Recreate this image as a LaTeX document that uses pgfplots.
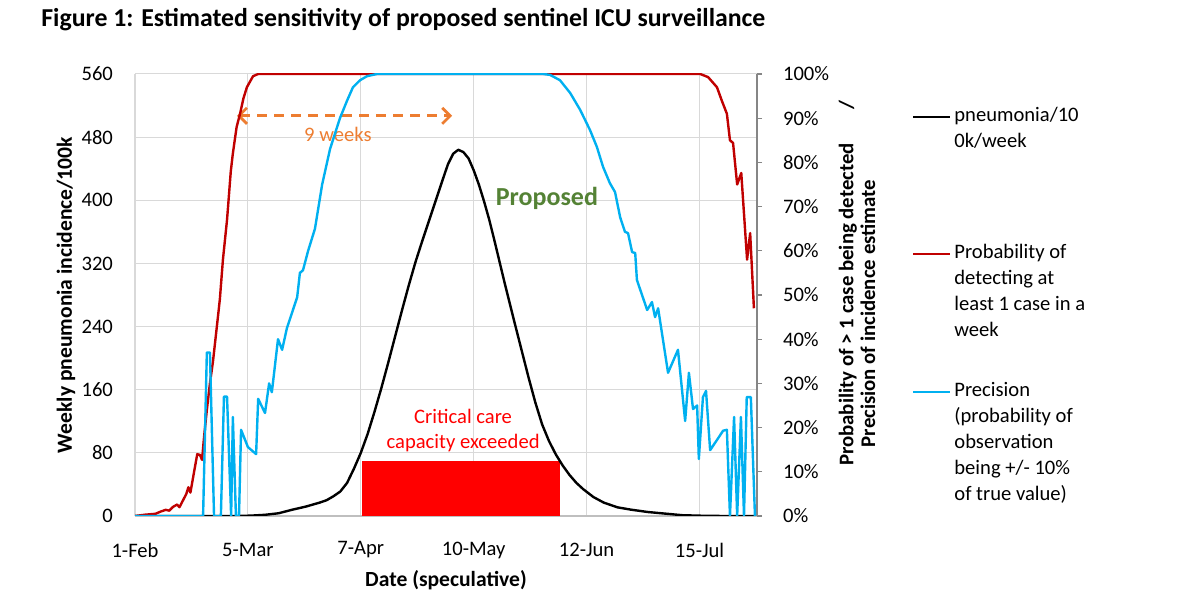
\documentclass[border=0pt]{standalone}
\usepackage{fontspec}
\setmainfont{Carlito}
\usepackage{pgfplots}
\pgfplotsset{compat=1.18}
\usetikzlibrary{arrows.meta}
\definecolor{redline}{HTML}{C00000}
\definecolor{blueline}{HTML}{00B0F0}
\definecolor{gridgray}{HTML}{D9D9D9}
\definecolor{axisgray}{HTML}{868686}
\definecolor{botgray}{HTML}{BFBFBF}
\definecolor{propgreen}{HTML}{548235}
\definecolor{arrorange}{HTML}{ED7D31}
\newcommand{\fs}{\fontsize{10.3}{12.5}\selectfont}
\newcommand{\lgtext}[1]{\parbox[t]{90pt}{\fontsize{10.3}{13}\selectfont\raggedright #1}}
\begin{document}
\begin{tikzpicture}
\path[use as bounding box] (0,0) rectangle (600pt,302.5pt);
\node[anchor=base west,font=\bfseries\fontsize{12.9}{15}\selectfont,inner sep=0pt] at (20.5pt,289pt) {Figure 1: Estimated sensitivity of proposed sentinel ICU surveillance};
\begin{axis}[
  scale only axis, width=311pt, height=221pt, at={(67.5pt,44.5pt)}, anchor=south west,
  xmin=0, xmax=181.8, ymin=0, ymax=560,
  axis x line*=bottom, axis y line*=left,
  x axis line style={draw=botgray, line width=0.6pt, -},
  y axis line style={draw=none},
  major tick length=0pt,
  xtick={0,33,66,99,132,165},
  xticklabels={1-Feb,5-Mar,7-Apr,10-May,12-Jun,15-Jul},
  ytick={0,80,...,560},
  grid=major, major grid style={draw=gridgray, line width=0.5pt},
  /pgf/number format/assume math mode=true,
  tick label style={font=\fs},
  xticklabel style={anchor=center, yshift=-17pt},
  yticklabel style={anchor=east, xshift=-7.5pt},
  xlabel={Date (speculative)},
  xlabel style={font=\bfseries\fontsize{10.8}{13}\selectfont, at={(axis description cs:0.5,-0.145)}, anchor=center},
  ylabel={Weekly pneumonia incidence/100k},
  ylabel style={font=\bfseries\fontsize{10.8}{13}\selectfont, at={(axis description cs:-0.111,0.5)}, anchor=center},
  line join=round,
]
\addplot[fill=red, draw=none] coordinates {(66.4,70) (124.2,70)} \closedcycle;
\addplot[black, line width=1.2pt] coordinates {
(0,0) (30,0) (34,0.5) (38,1.5) (42,3.5) (46,8) (50,12) (54,17) (56,20) (58,25) (60,31) (62,42) (64,60) (66,80) (68,104) (70,132) (72,162) (74,194) (76,227) (78,260) (80,292) (82,322) (84,349) (86,375) (88,401) (90,427) (91.5,446) (93,459) (94.5,464) (96,461) (97.5,453) (99,438) (100.5,420) (102,399) (103.5,376) (105,350) (106.5,323) (108,296) (109.5,270) (111,244) (113,210) (115,176) (117,144) (119,116) (121,95) (123,78) (125,64) (127,52) (129,42) (131,34) (134,24) (137,17) (141,11) (145,8) (150,5) (155,3) (160,1) (166,0.3) (172,0) (181.2,0)
};
\node[font=\fs, text=red, align=center] at (axis cs:95.9,108) {Critical care\\capacity exceeded};
\node[font=\bfseries\fontsize{13}{15}\selectfont, text=propgreen] at (axis cs:120.4,402) {Proposed};
\node[font=\fs, text=arrorange] at (axis cs:59.3,484) {9 weeks};
\draw[arrorange, line width=1.4pt, dash pattern=on 5pt off 3.5pt, {Straight Barb[length=4pt,width=8pt]}-{Straight Barb[length=4pt,width=8pt]}] (axis cs:29.8,507) -- (axis cs:92.7,507);
\end{axis}
\begin{axis}[
  scale only axis, width=311pt, height=221pt, at={(67.5pt,44.5pt)}, anchor=south west,
  xmin=0, xmax=181.8, ymin=0, ymax=100,
  axis y line*=right, axis x line=none,
  y axis line style={draw=axisgray, line width=0.6pt, -},
  ytick={0,10,...,100},
  ytick style={draw=axisgray, line width=0.6pt},
  tick align=outside, major tick length=2.5pt,
  yticklabel={\pgfmathprintnumber{\tick}\%},
  /pgf/number format/assume math mode=true,
  tick label style={font=\fs},
  yticklabel style={anchor=west, xshift=7pt},
  ylabel={\hspace*{12pt}Probability of > 1 case being detected\hspace*{17pt}/\\Precision of incidence estimate\hspace*{18.5pt}},
  ylabel style={font=\bfseries\fontsize{10.4}{10.8}\selectfont, align=center, at={(axis description cs:1.1608,0.5)}, anchor=center, rotate=0},
  line join=round,
]
\addplot[redline, line width=1.2pt] coordinates {
(0,0) (3,0.3) (6,0.5) (7.5,1) (9,1.4) (10,1.2) (11,2) (12.3,2.6) (13,2) (14,3.5) (15,5) (15.6,6.5) (16.2,5.3) (17.5,11) (18.2,14) (19,13.8) (19.6,12.7) (20.2,18) (21,24) (21.9,30) (22.8,35) (23.8,42) (24.8,49) (25.7,58) (26.9,67) (28,78) (28.6,82) (29.7,88) (30.7,91) (31.7,94.5) (32.7,97) (34.5,99.5) (36,100) (165.2,100) (167.5,99.3) (170.1,97) (171.5,94) (173,91) (173.9,85) (174.8,84.4) (176,75) (177.2,77.6) (178.9,58) (179.8,64) (180.9,47)
};
\addplot[blueline, line width=1.2pt] coordinates {
(0,0) (19.9,0) (21.0,37) (21.9,37) (23.1,0) (25.1,0) (26.0,27) (26.9,27) (28.1,0) (28.6,22.4) (29.5,0) (30.4,0) (31.0,19.5) (33.0,15.6) (35.4,14) (36.0,26.5) (38.0,23.3) (39.2,30) (40.0,28) (41.8,40) (43.0,37.6) (44.4,42.5) (47.4,49.5) (48.2,55) (49.1,55.6) (50.6,60) (52.6,65) (54.7,75) (57.0,83) (59.9,90) (62.0,94) (63.7,97) (65.8,98.6) (67.8,99.5) (70.7,100) (119.3,100) (121.3,99.8) (124.2,98.6) (127.2,95.7) (130.1,91.9) (133.0,87.3) (135.0,83.5) (136.8,79) (138.8,75.3) (140.3,73.3) (141.8,67.6) (143.2,64.3) (144.1,64) (145.3,59.7) (146.2,59.5) (146.7,53.4) (149.7,46.6) (151.1,48.4) (152.0,45) (152.9,47) (155.8,32.4) (158.7,37.6) (160.8,21.5) (161.9,32.4) (163.1,24.2) (164.3,25) (164.8,12.9) (166.0,26.9) (166.9,28.3) (168.1,14.9) (170.1,17.2) (171.9,19.3) (173.0,19.5) (173.9,0) (175.1,22.4) (176.0,0) (177.1,22.4) (178.0,0) (178.8,26.9) (180.0,26.9) (181.2,0)
};
\end{axis}
% legend
\draw[black, line width=1.2pt] (456.5pt,244pt) -- (475pt,244pt);
\node[anchor=base west, inner sep=0pt] at (477pt,241.5pt) {\lgtext{pneumonia/10\\0k/week}};
\draw[redline, line width=1.2pt] (456.5pt,175.5pt) -- (475pt,175.5pt);
\node[anchor=base west, inner sep=0pt] at (477pt,173pt) {\lgtext{Probability of\\detecting at\\least 1 case in a\\week}};
\draw[blueline, line width=1.2pt] (456.5pt,106.5pt) -- (475pt,106.5pt);
\node[anchor=base west, inner sep=0pt] at (477pt,104pt) {\lgtext{Precision\\(probability of\\observation\\being +/- 10\%\\of true value)}};
\end{tikzpicture}
\end{document}
